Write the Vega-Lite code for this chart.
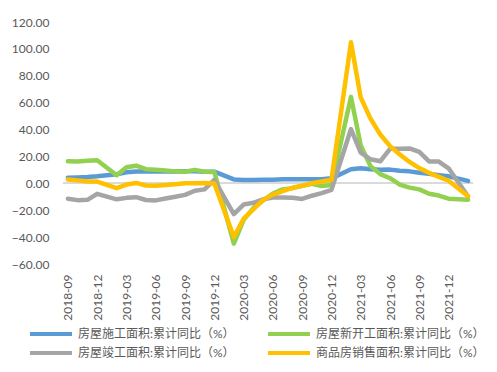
{
  "$schema": "https://vega.github.io/schema/vega-lite/v6.json",
  "width": 410,
  "height": 242,
  "autosize": {"type": "none"},
  "padding": {"left": 63, "top": 22, "right": 24, "bottom": 108},
  "background": "white",
  "config": {
    "view": {"stroke": null},
    "font": "Lato, 'Noto Sans CJK SC'",
    "axisY": {"labelOverlap": false}
  },
  "data": {"values": [
    {"m":"2018-09","s":"房屋施工面积:累计同比（%）","v":4.2},
    {"m":"2018-10","s":"房屋施工面积:累计同比（%）","v":4.4},
    {"m":"2018-11","s":"房屋施工面积:累计同比（%）","v":4.7},
    {"m":"2018-12","s":"房屋施工面积:累计同比（%）","v":5.2},
    {"m":"2019-02","s":"房屋施工面积:累计同比（%）","v":6.8},
    {"m":"2019-03","s":"房屋施工面积:累计同比（%）","v":8.2},
    {"m":"2019-04","s":"房屋施工面积:累计同比（%）","v":8.8},
    {"m":"2019-05","s":"房屋施工面积:累计同比（%）","v":8.8},
    {"m":"2019-06","s":"房屋施工面积:累计同比（%）","v":8.8},
    {"m":"2019-07","s":"房屋施工面积:累计同比（%）","v":9.0},
    {"m":"2019-08","s":"房屋施工面积:累计同比（%）","v":8.8},
    {"m":"2019-09","s":"房屋施工面积:累计同比（%）","v":9.0},
    {"m":"2019-10","s":"房屋施工面积:累计同比（%）","v":9.0},
    {"m":"2019-11","s":"房屋施工面积:累计同比（%）","v":8.7},
    {"m":"2019-12","s":"房屋施工面积:累计同比（%）","v":8.7},
    {"m":"2020-02","s":"房屋施工面积:累计同比（%）","v":2.9},
    {"m":"2020-03","s":"房屋施工面积:累计同比（%）","v":2.4},
    {"m":"2020-04","s":"房屋施工面积:累计同比（%）","v":2.5},
    {"m":"2020-05","s":"房屋施工面积:累计同比（%）","v":2.6},
    {"m":"2020-06","s":"房屋施工面积:累计同比（%）","v":2.6},
    {"m":"2020-07","s":"房屋施工面积:累计同比（%）","v":3.0},
    {"m":"2020-08","s":"房屋施工面积:累计同比（%）","v":3.1},
    {"m":"2020-09","s":"房屋施工面积:累计同比（%）","v":3.1},
    {"m":"2020-10","s":"房屋施工面积:累计同比（%）","v":3.0},
    {"m":"2020-11","s":"房屋施工面积:累计同比（%）","v":3.0},
    {"m":"2020-12","s":"房屋施工面积:累计同比（%）","v":3.7},
    {"m":"2021-02","s":"房屋施工面积:累计同比（%）","v":10.5},
    {"m":"2021-03","s":"房屋施工面积:累计同比（%）","v":11.2},
    {"m":"2021-04","s":"房屋施工面积:累计同比（%）","v":10.5},
    {"m":"2021-05","s":"房屋施工面积:累计同比（%）","v":10.1},
    {"m":"2021-06","s":"房屋施工面积:累计同比（%）","v":10.2},
    {"m":"2021-07","s":"房屋施工面积:累计同比（%）","v":9.3},
    {"m":"2021-08","s":"房屋施工面积:累计同比（%）","v":8.9},
    {"m":"2021-09","s":"房屋施工面积:累计同比（%）","v":7.9},
    {"m":"2021-10","s":"房屋施工面积:累计同比（%）","v":7.1},
    {"m":"2021-11","s":"房屋施工面积:累计同比（%）","v":6.1},
    {"m":"2021-12","s":"房屋施工面积:累计同比（%）","v":5.2},
    {"m":"2022-02","s":"房屋施工面积:累计同比（%）","v":1.8},

    {"m":"2018-09","s":"房屋新开工面积:累计同比（%）","v":16.4},
    {"m":"2018-10","s":"房屋新开工面积:累计同比（%）","v":16.3},
    {"m":"2018-11","s":"房屋新开工面积:累计同比（%）","v":16.8},
    {"m":"2018-12","s":"房屋新开工面积:累计同比（%）","v":17.2},
    {"m":"2019-02","s":"房屋新开工面积:累计同比（%）","v":6.0},
    {"m":"2019-03","s":"房屋新开工面积:累计同比（%）","v":11.9},
    {"m":"2019-04","s":"房屋新开工面积:累计同比（%）","v":13.1},
    {"m":"2019-05","s":"房屋新开工面积:累计同比（%）","v":10.5},
    {"m":"2019-06","s":"房屋新开工面积:累计同比（%）","v":10.1},
    {"m":"2019-07","s":"房屋新开工面积:累计同比（%）","v":9.5},
    {"m":"2019-08","s":"房屋新开工面积:累计同比（%）","v":8.9},
    {"m":"2019-09","s":"房屋新开工面积:累计同比（%）","v":8.6},
    {"m":"2019-10","s":"房屋新开工面积:累计同比（%）","v":10.0},
    {"m":"2019-11","s":"房屋新开工面积:累计同比（%）","v":8.6},
    {"m":"2019-12","s":"房屋新开工面积:累计同比（%）","v":8.5},
    {"m":"2020-02","s":"房屋新开工面积:累计同比（%）","v":-44.9},
    {"m":"2020-03","s":"房屋新开工面积:累计同比（%）","v":-27.2},
    {"m":"2020-04","s":"房屋新开工面积:累计同比（%）","v":-18.4},
    {"m":"2020-05","s":"房屋新开工面积:累计同比（%）","v":-12.8},
    {"m":"2020-06","s":"房屋新开工面积:累计同比（%）","v":-7.6},
    {"m":"2020-07","s":"房屋新开工面积:累计同比（%）","v":-4.5},
    {"m":"2020-08","s":"房屋新开工面积:累计同比（%）","v":-3.6},
    {"m":"2020-09","s":"房屋新开工面积:累计同比（%）","v":-1.9},
    {"m":"2020-10","s":"房屋新开工面积:累计同比（%）","v":-0.4},
    {"m":"2020-11","s":"房屋新开工面积:累计同比（%）","v":-2.0},
    {"m":"2020-12","s":"房屋新开工面积:累计同比（%）","v":-1.2},
    {"m":"2021-02","s":"房屋新开工面积:累计同比（%）","v":64.3},
    {"m":"2021-03","s":"房屋新开工面积:累计同比（%）","v":28.2},
    {"m":"2021-04","s":"房屋新开工面积:累计同比（%）","v":12.8},
    {"m":"2021-05","s":"房屋新开工面积:累计同比（%）","v":6.9},
    {"m":"2021-06","s":"房屋新开工面积:累计同比（%）","v":3.8},
    {"m":"2021-07","s":"房屋新开工面积:累计同比（%）","v":-0.9},
    {"m":"2021-08","s":"房屋新开工面积:累计同比（%）","v":-3.2},
    {"m":"2021-09","s":"房屋新开工面积:累计同比（%）","v":-4.5},
    {"m":"2021-10","s":"房屋新开工面积:累计同比（%）","v":-7.7},
    {"m":"2021-11","s":"房屋新开工面积:累计同比（%）","v":-9.1},
    {"m":"2021-12","s":"房屋新开工面积:累计同比（%）","v":-11.4},
    {"m":"2022-02","s":"房屋新开工面积:累计同比（%）","v":-12.2},

    {"m":"2018-09","s":"房屋竣工面积:累计同比（%）","v":-11.4},
    {"m":"2018-10","s":"房屋竣工面积:累计同比（%）","v":-12.5},
    {"m":"2018-11","s":"房屋竣工面积:累计同比（%）","v":-12.3},
    {"m":"2018-12","s":"房屋竣工面积:累计同比（%）","v":-7.8},
    {"m":"2019-02","s":"房屋竣工面积:累计同比（%）","v":-11.9},
    {"m":"2019-03","s":"房屋竣工面积:累计同比（%）","v":-10.8},
    {"m":"2019-04","s":"房屋竣工面积:累计同比（%）","v":-10.3},
    {"m":"2019-05","s":"房屋竣工面积:累计同比（%）","v":-12.4},
    {"m":"2019-06","s":"房屋竣工面积:累计同比（%）","v":-12.7},
    {"m":"2019-07","s":"房屋竣工面积:累计同比（%）","v":-11.3},
    {"m":"2019-08","s":"房屋竣工面积:累计同比（%）","v":-10.0},
    {"m":"2019-09","s":"房屋竣工面积:累计同比（%）","v":-8.6},
    {"m":"2019-10","s":"房屋竣工面积:累计同比（%）","v":-5.5},
    {"m":"2019-11","s":"房屋竣工面积:累计同比（%）","v":-4.5},
    {"m":"2019-12","s":"房屋竣工面积:累计同比（%）","v":2.6},
    {"m":"2020-02","s":"房屋竣工面积:累计同比（%）","v":-22.9},
    {"m":"2020-03","s":"房屋竣工面积:累计同比（%）","v":-15.8},
    {"m":"2020-04","s":"房屋竣工面积:累计同比（%）","v":-14.5},
    {"m":"2020-05","s":"房屋竣工面积:累计同比（%）","v":-11.9},
    {"m":"2020-06","s":"房屋竣工面积:累计同比（%）","v":-10.5},
    {"m":"2020-07","s":"房屋竣工面积:累计同比（%）","v":-10.6},
    {"m":"2020-08","s":"房屋竣工面积:累计同比（%）","v":-10.8},
    {"m":"2020-09","s":"房屋竣工面积:累计同比（%）","v":-11.6},
    {"m":"2020-10","s":"房屋竣工面积:累计同比（%）","v":-9.2},
    {"m":"2020-11","s":"房屋竣工面积:累计同比（%）","v":-7.3},
    {"m":"2020-12","s":"房屋竣工面积:累计同比（%）","v":-4.9},
    {"m":"2021-02","s":"房屋竣工面积:累计同比（%）","v":40.4},
    {"m":"2021-03","s":"房屋竣工面积:累计同比（%）","v":22.9},
    {"m":"2021-04","s":"房屋竣工面积:累计同比（%）","v":17.9},
    {"m":"2021-05","s":"房屋竣工面积:累计同比（%）","v":16.4},
    {"m":"2021-06","s":"房屋竣工面积:累计同比（%）","v":25.7},
    {"m":"2021-07","s":"房屋竣工面积:累计同比（%）","v":25.7},
    {"m":"2021-08","s":"房屋竣工面积:累计同比（%）","v":26.0},
    {"m":"2021-09","s":"房屋竣工面积:累计同比（%）","v":23.4},
    {"m":"2021-10","s":"房屋竣工面积:累计同比（%）","v":16.3},
    {"m":"2021-11","s":"房屋竣工面积:累计同比（%）","v":16.2},
    {"m":"2021-12","s":"房屋竣工面积:累计同比（%）","v":11.2},
    {"m":"2022-02","s":"房屋竣工面积:累计同比（%）","v":-9.8},

    {"m":"2018-09","s":"商品房销售面积:累计同比（%）","v":2.9},
    {"m":"2018-10","s":"商品房销售面积:累计同比（%）","v":2.2},
    {"m":"2018-11","s":"商品房销售面积:累计同比（%）","v":1.4},
    {"m":"2018-12","s":"商品房销售面积:累计同比（%）","v":1.3},
    {"m":"2019-02","s":"商品房销售面积:累计同比（%）","v":-3.6},
    {"m":"2019-03","s":"商品房销售面积:累计同比（%）","v":-0.9},
    {"m":"2019-04","s":"商品房销售面积:累计同比（%）","v":0.3},
    {"m":"2019-05","s":"商品房销售面积:累计同比（%）","v":-1.6},
    {"m":"2019-06","s":"商品房销售面积:累计同比（%）","v":-1.8},
    {"m":"2019-07","s":"商品房销售面积:累计同比（%）","v":-1.3},
    {"m":"2019-08","s":"商品房销售面积:累计同比（%）","v":-0.6},
    {"m":"2019-09","s":"商品房销售面积:累计同比（%）","v":0.1},
    {"m":"2019-10","s":"商品房销售面积:累计同比（%）","v":0.1},
    {"m":"2019-11","s":"商品房销售面积:累计同比（%）","v":0.2},
    {"m":"2019-12","s":"商品房销售面积:累计同比（%）","v":-0.1},
    {"m":"2020-02","s":"商品房销售面积:累计同比（%）","v":-39.9},
    {"m":"2020-03","s":"商品房销售面积:累计同比（%）","v":-26.3},
    {"m":"2020-04","s":"商品房销售面积:累计同比（%）","v":-19.3},
    {"m":"2020-05","s":"商品房销售面积:累计同比（%）","v":-12.3},
    {"m":"2020-06","s":"商品房销售面积:累计同比（%）","v":-8.4},
    {"m":"2020-07","s":"商品房销售面积:累计同比（%）","v":-5.8},
    {"m":"2020-08","s":"商品房销售面积:累计同比（%）","v":-3.3},
    {"m":"2020-09","s":"商品房销售面积:累计同比（%）","v":-1.8},
    {"m":"2020-10","s":"商品房销售面积:累计同比（%）","v":0.0},
    {"m":"2020-11","s":"商品房销售面积:累计同比（%）","v":1.3},
    {"m":"2020-12","s":"商品房销售面积:累计同比（%）","v":2.6},
    {"m":"2021-02","s":"商品房销售面积:累计同比（%）","v":104.9},
    {"m":"2021-03","s":"商品房销售面积:累计同比（%）","v":63.8},
    {"m":"2021-04","s":"商品房销售面积:累计同比（%）","v":48.1},
    {"m":"2021-05","s":"商品房销售面积:累计同比（%）","v":36.3},
    {"m":"2021-06","s":"商品房销售面积:累计同比（%）","v":27.7},
    {"m":"2021-07","s":"商品房销售面积:累计同比（%）","v":21.5},
    {"m":"2021-08","s":"商品房销售面积:累计同比（%）","v":15.9},
    {"m":"2021-09","s":"商品房销售面积:累计同比（%）","v":11.3},
    {"m":"2021-10","s":"商品房销售面积:累计同比（%）","v":7.8},
    {"m":"2021-11","s":"商品房销售面积:累计同比（%）","v":4.8},
    {"m":"2021-12","s":"商品房销售面积:累计同比（%）","v":1.9},
    {"m":"2022-02","s":"商品房销售面积:累计同比（%）","v":-9.6}
  ]},
  "encoding": {
    "y": {
      "field": "v", "type": "quantitative",
      "scale": {"domain": [-60, 120], "nice": false, "zero": false},
      "axis": {
        "title": null,
        "values": [-60,-40,-20,0,20,40,60,80,100,120],
        "format": ".2f",
        "labelFontSize": 12,
        "labelColor": "#595959",
        "labelPadding": 14,
        "labelOverlap": false,
        "labelFlush": false,
        "domain": false,
        "ticks": false,
        "grid": false
      }
    }
  },
  "layer": [
    {
      "mark": {"type": "rule", "color": "#D9D9D9", "strokeWidth": 1},
      "encoding": {
        "y": {"datum": 0, "type": "quantitative"}
      }
    },
    {
      "mark": {"type": "line", "strokeWidth": 4.5, "strokeJoin": "round", "strokeCap": "round"},
      "encoding": {
        "x": {
          "field": "m", "type": "ordinal",
          "scale": {"domain": ["2018-09","2018-10","2018-11","2018-12","2019-01","2019-02","2019-03","2019-04","2019-05","2019-06","2019-07","2019-08","2019-09","2019-10","2019-11","2019-12","2020-01","2020-02","2020-03","2020-04","2020-05","2020-06","2020-07","2020-08","2020-09","2020-10","2020-11","2020-12","2021-01","2021-02","2021-03","2021-04","2021-05","2021-06","2021-07","2021-08","2021-09","2021-10","2021-11","2021-12","2022-01","2022-02"], "type": "point", "padding": 0.5},
          "sort": null,
          "axis": {
            "title": null,
            "values": ["2018-09","2018-12","2019-03","2019-06","2019-09","2019-12","2020-03","2020-06","2020-09","2020-12","2021-03","2021-06","2021-09","2021-12"],
            "labelAngle": -90,
            "labelPadding": 10,
            "labelFontSize": 12,
            "labelColor": "#595959",
            "labelOverlap": false,
            "domain": false,
            "ticks": false,
            "grid": false
          }
        },
        "color": {
          "field": "s", "type": "nominal",
          "scale": {
            "domain": ["房屋施工面积:累计同比（%）","房屋竣工面积:累计同比（%）","房屋新开工面积:累计同比（%）","商品房销售面积:累计同比（%）"],
            "range": ["#5B9BD5","#A5A5A5","#92D050","#FFC000"]
          },
          "legend": {
            "title": null,
            "orient": "none",
            "legendX": -21,
            "legendY": 303,
            "columns": 2,
            "columnPadding": 25,
            "rowPadding": 2,
            "symbolType": "M-3,0H3",
            "symbolSize": 196,
            "symbolStrokeWidth": 4,
            "labelFontSize": 12,
            "labelColor": "#595959",
            "labelOffset": 18,
            "labelLimit": 300
          }
        }
      }
    }
  ]
}
